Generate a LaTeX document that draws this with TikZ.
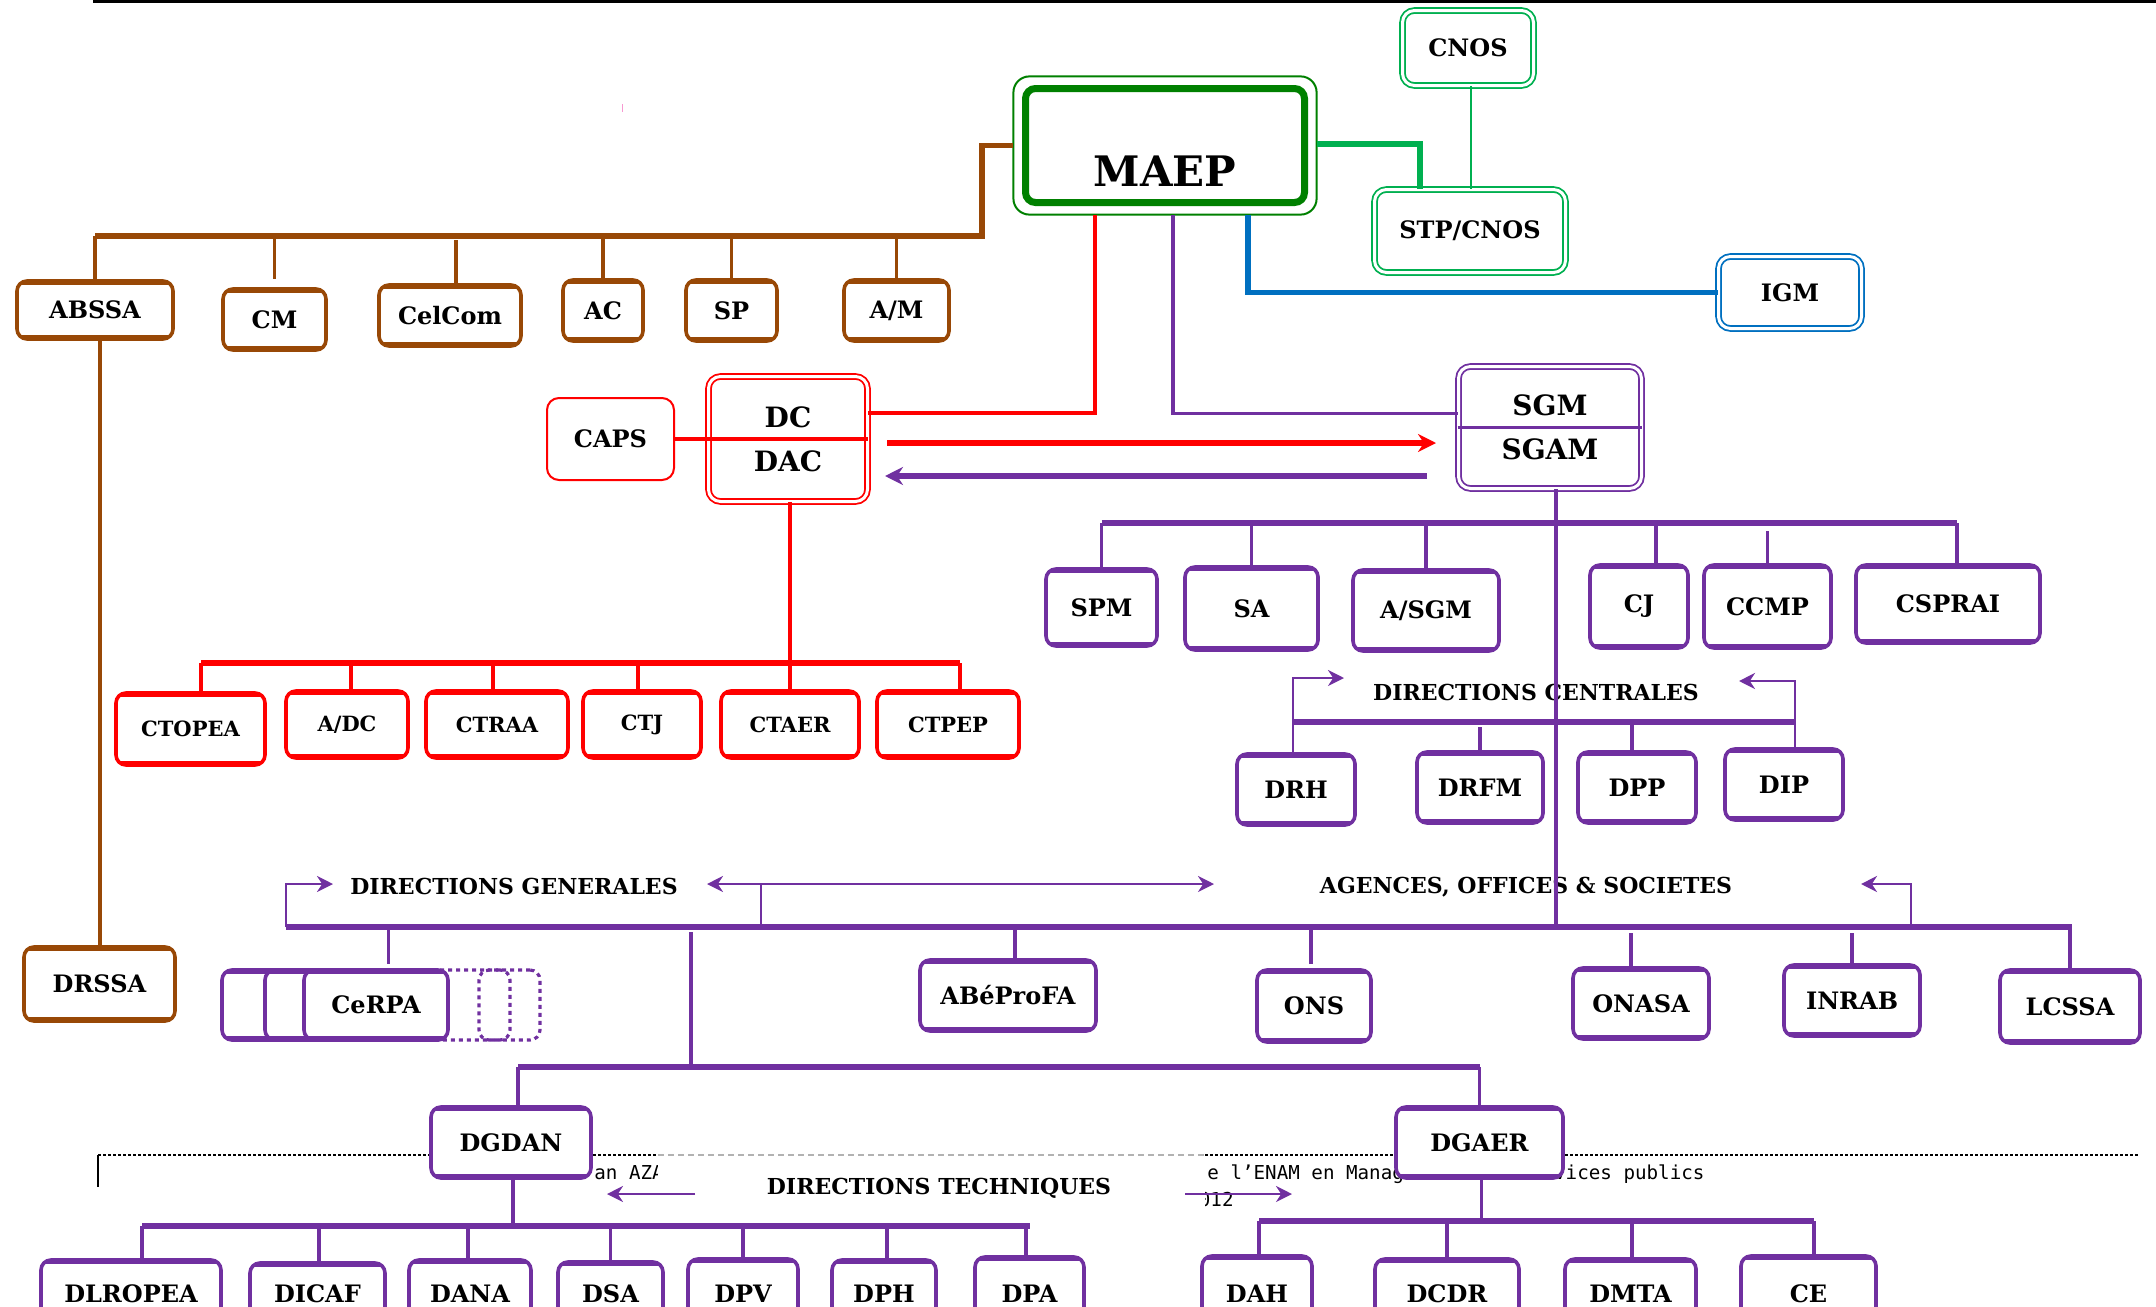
\documentclass[tikz,border=0pt]{standalone}
\usepackage{fontspec}
\setmainfont{DejaVu Serif}
\setmonofont{DejaVu Sans Mono}
\usetikzlibrary{arrows.meta}
\definecolor{brun}{RGB}{152,72,6}
\definecolor{vertf}{RGB}{0,128,0}
\definecolor{vertc}{RGB}{0,176,80}
\definecolor{bleu}{RGB}{0,112,192}
\definecolor{violetm}{RGB}{112,48,160}
\definecolor{rouge}{RGB}{255,0,0}
\begin{document}
\begin{tikzpicture}[x=0.5pt,y=-0.5pt,>={Stealth[length=8pt,width=8pt]},
	taille/.style 2 args={minimum width=#1*0.5pt,minimum height=#2*0.5pt},
	boite/.style={draw=#1,fill=white,line width=1.8pt,rounded corners=5pt,inner sep=0pt,
		font=\bfseries\fontsize{12}{14}\selectfont,
		path picture={\fill[#1,sharp corners] (path picture bounding box.north west) rectangle ([yshift=-1.8pt]path picture bounding box.north east);
			\fill[#1,sharp corners] (path picture bounding box.south west) rectangle ([yshift=1.8pt]path picture bounding box.south east);}},
	rboite/.style={boite=rouge,font=\bfseries\fontsize{10.5}{12}\selectfont},
	dboite/.style={draw=#1,fill=white,double,line width=0.9pt,double distance=1.5pt,rounded corners=6pt,inner sep=0pt,
		font=\bfseries\fontsize{12}{14}\selectfont},
	pointille/.style={draw=violetm,line width=1.6pt,dash pattern=on 2pt off 2pt,rounded corners=5pt},
	bus/.style={draw=#1,line width=2.6pt},
	tige/.style={draw=#1,line width=1.8pt},
	fleche/.style={->,draw=violetm,line width=1.4pt},
	titre/.style={font=\bfseries\fontsize{11}{13}\selectfont,inner sep=0pt},
	pied/.style={font=\ttfamily\fontsize{9.6}{11}\selectfont,inner sep=0pt,anchor=base west}]
	\useasboundingbox (0,0) rectangle (2156,1306);
	\clip (0,0) rectangle (2156,1306);
	% trait du haut
	\draw[line width=1.6pt] (93,1.5) -- (2156,1.5);
	\draw[magenta!40,line width=0.5pt] (622,104) -- (622,112);
	% pied de page
	\draw[dash pattern=on 1.5pt off 1pt,line width=0.8pt] (98,1155) -- (658,1155);
	\draw[dash pattern=on 1.5pt off 1pt,line width=0.8pt] (1205,1155) -- (2138,1155);
	\draw[line width=0.6pt] (98,1155) -- (98,1187);
	\node[pied] (pieda) at (594,1179) {an AZA};
	\node[pied] (piedb) at (1207,1179) {e l’ENAM en Management des services publics};
	\node[pied,anchor=base east] (piedc) at (1234,1206) {2012};
	\fill[white] (658,1157) rectangle (1205,1232);
	\draw[gray!60,dash pattern=on 3pt off 2pt,line width=0.6pt] (658,1155) -- (1205,1155);
	% ministre
	\node[draw=vertf,fill=white,line width=3.5pt,rounded corners=5pt,taille={279}{114},
		label={[font=\bfseries\fontsize{21}{24}\selectfont,yshift=-13pt]center:MAEP}] (maep) at (1165,145.5) {};
	\draw[vertf,line width=1pt,rounded corners=8pt] ([shift={(-4.3pt,4.3pt)}]maep.north west) rectangle ([shift={(4.3pt,-4.3pt)}]maep.south east);
	\node[dboite=vertc,taille={131}{75}] (cnos) at (1468,48) {CNOS};
	\node[dboite=vertc,taille={191}{83}] (stp) at (1470,231) {STP/CNOS};
	\node[dboite=bleu,taille={143}{72}] (igm) at (1790,292.5) {IGM};
	% cabinet
	\node[boite=brun,taille={156}{58}] (abssa) at (95,310) {ABSSA};
	\node[boite=brun,taille={103}{61}] (cm) at (274.5,319.5) {CM};
	\node[boite=brun,taille={142}{61}] (celcom) at (450,315.5) {CelCom};
	\node[boite=brun,taille={80}{61}] (ac) at (603,310.5) {AC};
	\node[boite=brun,taille={91}{61}] (sp) at (731.5,310.5) {SP};
	\node[boite=brun,taille={105}{61}] (am) at (896.5,310.5) {A/M};
	\node[boite=brun,taille={151}{74}] (drssa) at (99.5,984) {DRSSA};
	% directeur de cabinet
	\node[dboite=rouge,taille={159}{125},align=center,font=\bfseries\fontsize{14}{22}\selectfont] (dcdac) at (788,439) {DC\\DAC};
	\node[draw=rouge,fill=white,line width=1pt,rounded corners=6pt,taille={127}{82},font=\bfseries\fontsize{12}{14}\selectfont] (caps) at (610.5,439) {CAPS};
	\node[rboite,taille={149}{72}] (ctopea) at (190.5,729) {CTOPEA};
	\node[rboite,taille={122}{67}] (adc) at (347,724.5) {A/DC};
	\node[rboite,taille={142}{67}] (ctraa) at (497,724.5) {CTRAA};
	\node[rboite,taille={118}{67}] (ctj) at (642,724.5) {CTJ};
	\node[rboite,taille={138}{67}] (ctaer) at (790,724.5) {CTAER};
	\node[rboite,taille={142}{67}] (ctpep) at (948,724.5) {CTPEP};
	% secretariat general
	\node[dboite=violetm,taille={183}{122},align=center,font=\bfseries\fontsize{14}{22}\selectfont] (sgm) at (1550,427.5) {SGM\\SGAM};
	\node[boite=violetm,taille={111}{77}] (spm) at (1101.5,607.5) {SPM};
	\node[boite=violetm,taille={133}{83}] (sa) at (1251.5,608.5) {SA};
	\node[boite=violetm,taille={146}{81}] (asgm) at (1426,610.5) {A/SGM};
	\node[boite=violetm,taille={98}{83}] (cj) at (1639,606.5) {CJ};
	\node[boite=violetm,taille={127}{83}] (ccmp) at (1767.5,606.5) {CCMP};
	\node[boite=violetm,taille={184}{78}] (cspr) at (1948,604) {CSPRAI};
	\node[titre] (dircent) at (1536,692) {DIRECTIONS CENTRALES};
	\node[boite=violetm,taille={118}{71}] (drh) at (1296,789.5) {DRH};
	\node[boite=violetm,taille={126}{71}] (drfm) at (1480,787.5) {DRFM};
	\node[boite=violetm,taille={118}{71}] (dpp) at (1637,787.5) {DPP};
	\node[boite=violetm,taille={118}{71}] (dip) at (1784,784.5) {DIP};
	% directions generales et agences
	\node[titre] (dirgen) at (514,886) {DIRECTIONS GENERALES};
	\node[titre] (agences) at (1526,887) {AGENCES, OFFICES \& SOCIETES};
	\node[boite=violetm,taille={196}{70}] (cerpaa) at (320,1005) {};
	\node[boite=violetm,taille={163}{70}] (cerpab) at (346.5,1005) {};
	\node[pointille,taille={88}{70}] (cerpac) at (466,1005) {};
	\node[pointille,taille={61}{70}] (cerpad) at (509.5,1005) {};
	\node[boite=violetm,taille={144}{70}] (cerpa) at (376,1005) {CeRPA};
	\node[boite=violetm,taille={176}{71}] (abep) at (1008,995.5) {ABéProFA};
	\node[boite=violetm,taille={114}{72}] (ons) at (1314,1006) {ONS};
	\node[boite=violetm,taille={136}{71}] (onasa) at (1641,1003.5) {ONASA};
	\node[boite=violetm,taille={136}{71}] (inrab) at (1852,1000.5) {INRAB};
	\node[boite=violetm,taille={140}{73}] (lcssa) at (2070,1006.5) {LCSSA};
	\node[boite=violetm,taille={160}{71}] (dgdan) at (511,1142.5) {DGDAN};
	\node[boite=violetm,taille={167}{71}] (dgaer) at (1479.5,1142.5) {DGAER};
	% directions techniques
	\node[titre] (dirtech) at (939,1188) {DIRECTIONS TECHNIQUES};
	\node[boite=violetm,taille={180}{68}] (dlropea) at (131,1294) {DLROPEA};
	\node[boite=violetm,taille={135}{62}] (dicaf) at (317.5,1294) {DICAF};
	\node[boite=violetm,taille={122}{68}] (dana) at (470,1294) {DANA};
	\node[boite=violetm,taille={105}{64}] (dsa) at (610.5,1294) {DSA};
	\node[boite=violetm,taille={110}{70}] (dpv) at (743,1294) {DPV};
	\node[boite=violetm,taille={104}{68}] (dph) at (884,1294) {DPH};
	\node[boite=violetm,taille={109}{74}] (dpa) at (1029.5,1294) {DPA};
	\node[boite=violetm,taille={110}{76}] (dah) at (1257,1294) {DAH};
	\node[boite=violetm,taille={144}{70}] (dcdr) at (1447,1294) {DCDR};
	\node[boite=violetm,taille={131}{70}] (dmta) at (1630.5,1294) {DMTA};
	\node[boite=violetm,taille={135}{76}] (ce) at (1808.5,1294) {CE};
	% liaisons du ministre
	\coordinate (bcab) at (982,236);
	\draw[bus=brun] ([xshift=-4.3pt]maep.west) -| (bcab) -- (abssa.north |- bcab);
	\foreach \n in {abssa,ac,sp,am}
	\draw[tige=brun] (\n.north |- bcab) -- (\n.north);
	\draw[tige=brun,shorten >=4pt] (cm.north |- bcab) -- (cm.north);
	\draw[tige=brun,shorten <=2pt] ([xshift=3pt]celcom.north |- bcab) -- ([xshift=3pt]celcom.north);
	\draw[tige=brun] ([xshift=2.5pt]abssa.south) -- ([xshift=2.5pt]abssa.south |- drssa.north);
	\draw[bus=vertc] ([xshift=4.3pt,yshift=0.75pt]maep.east) -| ([xshift=-25pt]stp.north);
	\draw[vertc,line width=1pt] ([xshift=1.5pt]cnos.south) -- ([xshift=1.5pt]cnos.south |- stp.north);
	\draw[bus=bleu] ([xshift=41.5pt,yshift=-4.3pt]maep.south) |- (igm.west);
	\draw[tige=rouge] ([xshift=-35pt,yshift=-4.3pt]maep.south) |- ([yshift=13pt]dcdac.east);
	\draw[tige=violetm] ([xshift=4pt,yshift=-4.3pt]maep.south) |- ([yshift=7pt]sgm.west);
	% echanges DC et SGM
	\coordinate (fra) at (887,443);
	\coordinate (frb) at (1436,443);
	\coordinate (fva) at (1427,476);
	\coordinate (fvb) at (885,476);
	\draw[bus=rouge,-{Stealth[length=9pt,width=9pt]}] (fra) -- (frb);
	\draw[bus=violetm,-{Stealth[length=9pt,width=9pt]}] (fva) -- (fvb);
	% cabinet technique
	\draw[tige=rouge] (caps.east) -- (dcdac.east);
	\coordinate (bdc) at (790,663);
	\draw[tige=rouge] ([xshift=1pt]dcdac.south) -- (ctaer.north);
	\draw[bus=rouge] ([xshift=5.25pt]ctopea.north |- bdc) -- ([xshift=6pt]ctpep.north |- bdc);
	\foreach \n/\d in {ctopea/5.25,adc/2,ctraa/-2,ctj/-2,ctpep/6}
	\draw[tige=rouge] ([xshift=\d pt]\n.north |- bdc) -- ([xshift=\d pt]\n.north);
	% secretariat general
	\draw[tige=violetm] (sgm.west) -- (sgm.east);
	\coordinate (bsg) at (1550,523);
	\draw[bus=violetm] (spm.north |- bsg) -- ([xshift=4.5pt]cspr.north |- bsg);
	\foreach \n/\d in {spm/0,sa/0,asgm/0,cj/8.5,cspr/4.5}
	\draw[tige=violetm] ([xshift=\d pt]\n.north |- bsg) -- ([xshift=\d pt]\n.north);
	\draw[tige=violetm,shorten <=4pt] (ccmp.north |- bsg) -- (ccmp.north);
	\coordinate (bce) at (1550,722);
	\coordinate (fca) at (1344,678);
	\coordinate (fcb) at (1739,681);
	\draw[bus=violetm] ([xshift=-1.5pt]drh.north |- bce) -- ([xshift=5.5pt]dip.north |- bce);
	\draw[fleche] ([xshift=-1.5pt]drh.north) |- (fca);
	\draw[fleche] ([xshift=5.5pt]dip.north) |- (fcb);
	\draw[tige=violetm,shorten <=2.5pt] (drfm.north |- bce) -- (drfm.north);
	\draw[tige=violetm] ([xshift=-2.5pt]dpp.north |- bce) -- ([xshift=-2.5pt]dpp.north);
	% directions generales, agences
	\coordinate (bgl) at (286,927);
	\coordinate (bgm) at (761,927);
	\coordinate (bgd) at (1911,927);
	\coordinate (bgr) at (2072,927);
	\draw[tige=violetm] ([xshift=3pt]sgm.south) -- ([xshift=3pt]sgm.south |- bgl);
	\draw[bus=violetm] (bgl) -- (bgr);
	\coordinate (fga) at (333,884);
	\coordinate (fgb) at (707,884);
	\coordinate (fgc) at (1214,884);
	\coordinate (fgd) at (1861,884);
	\draw[fleche] (bgl) |- (fga);
	\draw[fleche] (bgm) |- (fgb);
	\draw[fleche] (bgm |- fgb) -- (fgc);
	\draw[fleche] (bgd) |- (fgd);
	\draw[tige=violetm,shorten >=2pt] ([xshift=6.25pt]cerpa.north |- bgl) -- ([xshift=6.25pt]cerpa.north);
	\draw[tige=violetm] ([xshift=3.5pt]abep.north |- bgl) -- ([xshift=3.5pt]abep.north);
	\draw[tige=violetm,shorten >=2pt] ([xshift=-1.5pt]ons.north |- bgl) -- ([xshift=-1.5pt]ons.north);
	\draw[tige=violetm,shorten <=3pt] ([xshift=-5pt]onasa.north |- bgl) -- ([xshift=-5pt]onasa.north);
	\draw[tige=violetm,shorten <=3pt] (inrab.north |- bgl) -- (inrab.north);
	\draw[tige=violetm] (lcssa.north |- bgl) -- (lcssa.north);
	\coordinate (bdg) at (691,1067);
	\draw[tige=violetm,shorten <=2.5pt] (bdg |- bgl) -- (bdg);
	\draw[bus=violetm] ([xshift=3.5pt]dgdan.north |- bdg) -- (dgaer.north |- bdg);
	\draw[tige=violetm] ([xshift=3.5pt]dgdan.north |- bdg) -- ([xshift=3.5pt]dgdan.north);
	\draw[tige=violetm] (dgaer.north |- bdg) -- (dgaer.north);
	% directions techniques
	\coordinate (fta) at (695,1194);
	\coordinate (ftb) at (607,1194);
	\coordinate (ftc) at (1185,1194);
	\coordinate (ftd) at (1292,1194);
	\draw[fleche] (fta) -- (ftb);
	\draw[fleche] (ftc) -- (ftd);
	\coordinate (bdn) at (513,1226);
	\draw[tige=violetm] ([xshift=1pt]dgdan.south) -- ([xshift=1pt]dgdan.south |- bdn);
	\draw[bus=violetm] ([xshift=5.5pt]dlropea.north |- bdn) -- (dpa.north |- bdn);
	\foreach \n/\d in {dlropea/5.5,dicaf/0.75,dana/-1,dsa/0,dpv/0,dph/1.5,dpa/-1.75}
	\draw[tige=violetm] ([xshift=\d pt]\n.north |- bdn) -- ([xshift=\d pt]\n.north);
	\coordinate (bda) at (1482,1221);
	\draw[tige=violetm] ([xshift=1pt]dgaer.south) -- ([xshift=1pt]dgaer.south |- bda);
	\draw[bus=violetm] ([xshift=1pt]dah.north |- bda) -- ([xshift=2.75pt]ce.north |- bda);
	\foreach \n/\d in {dah/1,dcdr/0,dmta/0.75,ce/2.75}
	\draw[tige=violetm] ([xshift=\d pt]\n.north |- bda) -- ([xshift=\d pt]\n.north);
\end{tikzpicture}
\end{document}
